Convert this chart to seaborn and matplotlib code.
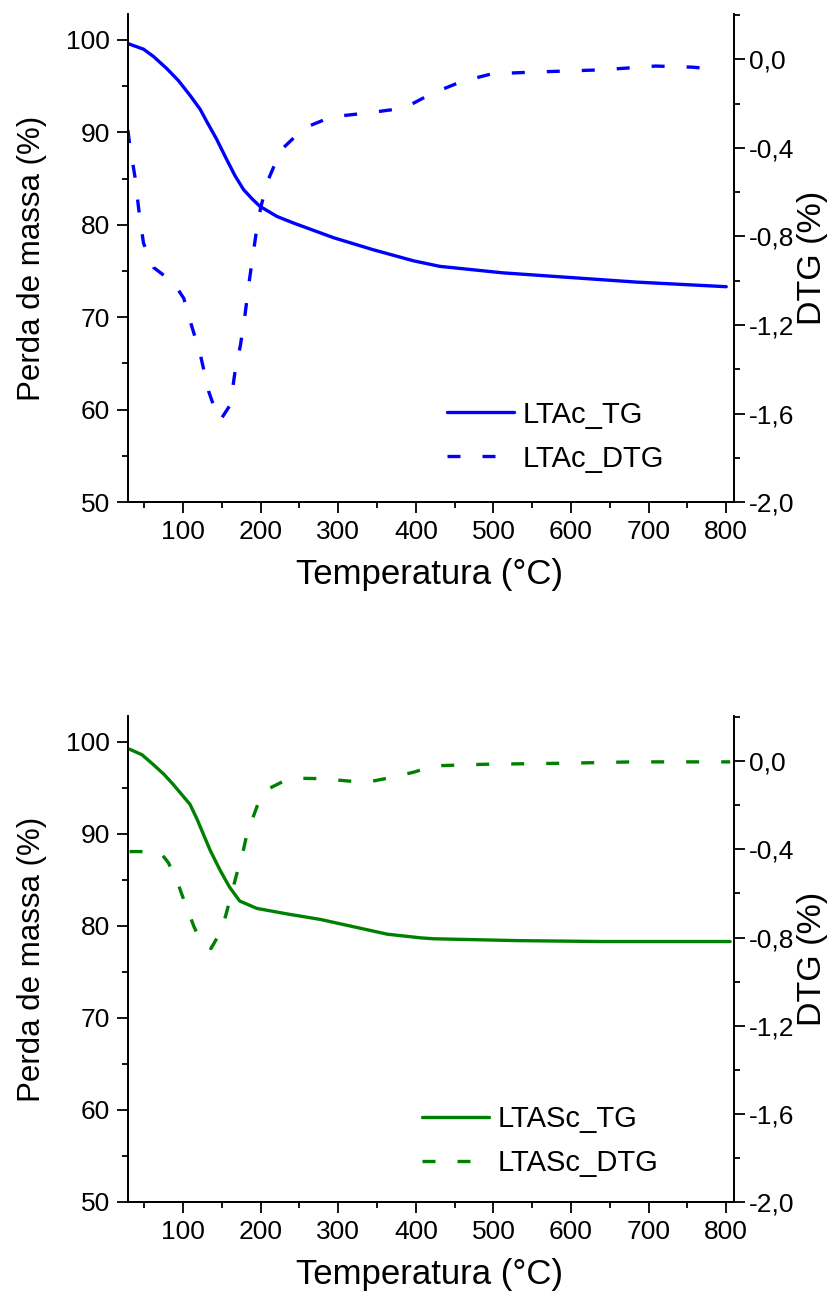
import pandas as pd
import matplotlib
matplotlib.use("Agg")
import matplotlib.pyplot as plt
from matplotlib.ticker import MultipleLocator, FuncFormatter
import seaborn as sns

# LTAc (top panel)
ltac_tg_temp = [29, 49, 62, 79, 94, 109, 122, 131, 143, 156, 167, 178, 189, 199, 221, 242, 294, 345,
                397, 431, 512, 598, 684, 800]
ltac_tg = [99.6, 99.0, 98.2, 96.9, 95.6, 94.0, 92.5, 91.1, 89.3, 87.1, 85.3, 83.8, 82.8, 82.0, 80.9,
           80.2, 78.6, 77.3, 76.1, 75.5, 74.8, 74.3, 73.8, 73.3]
ltac_dtg_temp = [29, 31, 38, 43, 49, 62, 88, 101, 109, 122, 133, 140, 148, 161, 167, 174, 180, 185,
                 189, 194, 200, 209, 226, 256, 291, 342, 385, 420, 459, 498, 554, 640, 709, 756, 790]
ltac_dtg = [-0.32, -0.38, -0.53, -0.68, -0.83, -0.94, -1.01, -1.08, -1.18, -1.33, -1.50, -1.57, -1.63,
            -1.56, -1.41, -1.29, -1.15, -1.01, -0.91, -0.79, -0.67, -0.55, -0.41, -0.31, -0.26, -0.24,
            -0.22, -0.155, -0.10, -0.065, -0.057, -0.047, -0.03, -0.035, -0.045]

# LTASc (bottom panel)
ltasc_tg_temp = [31, 47, 62, 75, 87, 100, 109, 118, 126, 135, 148, 160, 173, 195, 234, 277, 320, 363,
                 406, 423, 530, 638, 805]
ltasc_tg = [99.2, 98.6, 97.5, 96.5, 95.4, 94.1, 93.2, 91.6, 90.0, 88.2, 86.0, 84.2, 82.7, 81.9, 81.3,
            80.7, 79.9, 79.1, 78.7, 78.6, 78.4, 78.3, 78.3]
ltasc_dtg_temp = [31, 49, 71, 81, 93, 99, 108, 114, 123, 136, 149, 155, 164, 172, 177, 183, 190, 198,
                  209, 230, 243, 278, 320, 342, 372, 398, 423, 487, 594, 680, 805]
ltasc_dtg = [-0.41, -0.41, -0.415, -0.46, -0.55, -0.61, -0.695, -0.75, -0.82, -0.85, -0.77, -0.70, -0.58,
             -0.475, -0.415, -0.32, -0.256, -0.18, -0.127, -0.09, -0.077, -0.079, -0.092, -0.092, -0.071,
             -0.049, -0.021, -0.014, -0.009, -0.003, -0.003]

panels = [
    ("LTAc", "#0000FF", ltac_tg_temp, ltac_tg, ltac_dtg_temp, ltac_dtg),
    ("LTASc", "#008000", ltasc_tg_temp, ltasc_tg, ltasc_dtg_temp, ltasc_dtg),
]

sns.set_theme(style="ticks")
plt.rcParams["font.family"] = ["Liberation Sans", "DejaVu Sans"]
plt.rcParams.update({
    "axes.linewidth": 1.3,
    "text.color": "black",
    "axes.labelcolor": "black",
    "axes.edgecolor": "black",
    "xtick.color": "black",
    "ytick.color": "black",
})

fig = plt.figure(figsize=(8.38, 13.0), dpi=100)
rects = [[0.1527, 0.6138, 0.7232, 0.3754], [0.1527, 0.0754, 0.7232, 0.3738]]
legend_pos = [(0.526, 0.134), (0.485, 0.1255)]
dash = (0, (3.9, 6.6))

comma = FuncFormatter(lambda v, p: f"{v:.1f}".replace(".", ",").replace("-0,0", "0,0"))

for rect, lpos, (name, col, tt, tg, dt, dtg) in zip(rects, legend_pos, panels):
    ax = fig.add_axes(rect)
    ax2 = ax.twinx()
    tg_df = pd.DataFrame({"temp": tt, "tg": tg})
    dtg_df = pd.DataFrame({"temp": dt, "dtg": dtg})
    sns.lineplot(data=tg_df, x="temp", y="tg", ax=ax, color=col, lw=2.4, estimator=None, legend=False)
    sns.lineplot(data=dtg_df, x="temp", y="dtg", ax=ax2, color=col, lw=2.4, linestyle=dash,
                 estimator=None, legend=False)

    ax.set_xlim(29, 810)
    ax.set_ylim(50, 102.8)
    ax2.set_ylim(-2.0, 0.205)
    ax.xaxis.set_major_locator(MultipleLocator(100))
    ax.xaxis.set_minor_locator(MultipleLocator(50))
    ax.yaxis.set_major_locator(MultipleLocator(10))
    ax.yaxis.set_minor_locator(MultipleLocator(5))
    ax2.yaxis.set_major_locator(MultipleLocator(0.4))
    ax2.yaxis.set_minor_locator(MultipleLocator(0.2))
    ax2.yaxis.set_major_formatter(comma)
    ax.set_xticks([100, 200, 300, 400, 500, 600, 700, 800])

    for a in (ax, ax2):
        a.spines["top"].set_visible(False)
        for s in a.spines.values():
            s.set_linewidth(1.3)
            s.set_color("black")
        a.tick_params(which="major", length=8, width=1.3, labelsize=19, pad=5, color="black",
                      labelcolor="black")
        a.tick_params(which="minor", length=4, width=1.3, color="black")
    ax2.tick_params(which="major", pad=3)

    ax.set_xlabel("Temperatura (°C)", fontsize=25)
    ax.set_ylabel("Perda de massa (%)", fontsize=22.5)
    ax2.set_ylabel("DTG (%)", fontsize=24.5)
    ax.xaxis.set_label_coords(0.4975, -0.115)
    ax.yaxis.set_label_coords(-0.134, 0.5)
    ax2.yaxis.set_label_coords(1.104, 0.5)

    handles = [ax.get_lines()[0], ax2.get_lines()[0]]
    ax.legend(handles, [f"{name}_TG", f"{name}_DTG"], loc="center left", bbox_to_anchor=lpos,
              frameon=False, fontsize=21, borderpad=0, borderaxespad=0, handlelength=2.3,
              handletextpad=0.3, labelspacing=0.55)
    ax.set_zorder(ax2.get_zorder() + 1)
    ax.patch.set_visible(False)

fig.savefig("out.png", dpi=100)
